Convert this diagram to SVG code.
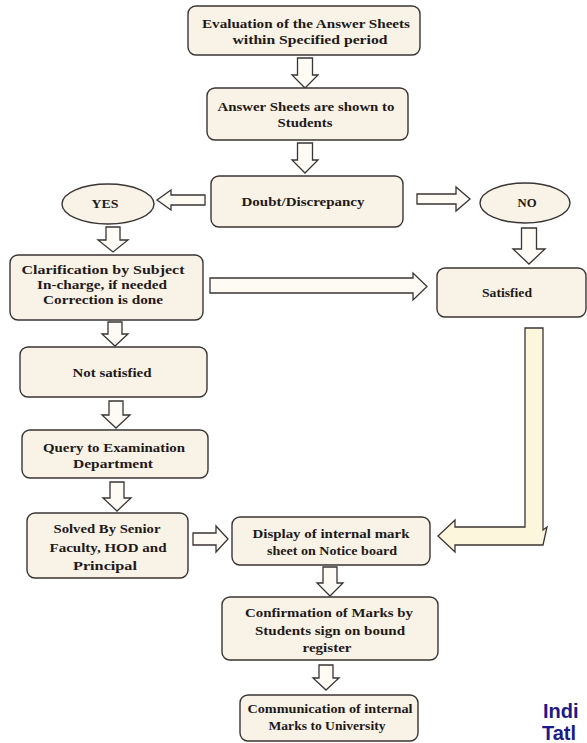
<svg xmlns="http://www.w3.org/2000/svg" width="587" height="743" viewBox="0 0 587 743">
<style>
.box{fill:#f9f2e6;stroke:#3a3535;stroke-width:1.4}
.arr{fill:#fdfbf4;stroke:#3a3535;stroke-width:1.3;stroke-linejoin:miter}
.t{font-family:"Liberation Serif","Times New Roman",serif;font-weight:bold;font-size:12px;fill:#1e1a1a;text-anchor:middle}
.blue{font-family:"Liberation Sans",Arial,sans-serif;font-weight:bold;font-size:20px;fill:#1c1a8a}
</style>
<rect width="587" height="743" fill="#ffffff"/>
<g id="connectors">
<path class="arr" d="M297.5,58 H312.5 V75 H318 L305,88 L292,75 H297.5 Z"/>
<path class="arr" d="M297.5,143 H312.5 V160 H318 L305,173 L292,160 H297.5 Z"/>
<path class="arr" d="M205,195 V205 H171 V210 L157,200 L171,190 V195 Z"/>
<path class="arr" d="M417,194 H456 V187 L470,199 L456,211 V204 H417 Z"/>
<path class="arr" d="M106,227 H120 V240 H128 L113,252 L98,240 H106 Z"/>
<path class="arr" d="M521.5,228 H536.5 V249 H545 L529,264 L513,249 H521.5 Z"/>
<path class="arr" d="M210,278 H413 V273 L427,286.5 L413,300 V293 H210 Z"/>
<path class="arr" d="M108,322 H122 V334 H128 L115,346 L102,334 H108 Z"/>
<path class="arr" d="M109,401 H123 V415 H130 L116,428 L102,415 H109 Z"/>
<path class="arr" d="M110,482 H124 V498 H131 L117,511 L103,498 H110 Z"/>
<path class="arr" d="M193,533 H216 V526 L228,539 L216,552 V545 H193 Z"/>
<path class="arr" d="M525,328 H543 V530 L547,527 L543,545 H455 V552 L438,536 L455,520 V527 H525 Z" style="fill:#fbf6dc"/>
<path class="arr" d="M323,567 H337 V583 H343 L330,596 L317,583 H323 Z"/>
<path class="arr" d="M319,665 H333 V678 H339 L326,690 L313,678 H319 Z"/>
</g>
<g id="n1"><rect class="box" x="188" y="6" width="232" height="49" rx="8"/>
<text class="t" x="306" y="28" textLength="208" lengthAdjust="spacingAndGlyphs">Evaluation of the Answer Sheets</text>
<text class="t" x="310" y="44" textLength="155" lengthAdjust="spacingAndGlyphs">within Specified period</text></g>
<g id="n2"><rect class="box" x="207" y="88" width="201" height="52" rx="8"/>
<text class="t" x="306" y="111" textLength="177" lengthAdjust="spacingAndGlyphs">Answer Sheets are shown to</text>
<text class="t" x="305" y="127" textLength="55" lengthAdjust="spacingAndGlyphs">Students</text></g>
<g id="n3"><rect class="box" x="211" y="176" width="192" height="51" rx="8"/>
<text class="t" x="303" y="206" textLength="123" lengthAdjust="spacingAndGlyphs">Doubt/Discrepancy</text></g>
<g id="yes"><ellipse class="box" cx="108" cy="204" rx="46" ry="20"/>
<text class="t" x="105" y="208" textLength="27" lengthAdjust="spacingAndGlyphs">YES</text></g>
<g id="no"><ellipse class="box" cx="525" cy="203" rx="45" ry="20"/>
<text class="t" x="527" y="207" textLength="19" lengthAdjust="spacingAndGlyphs">NO</text></g>
<g id="n4"><rect class="box" x="10" y="255" width="193" height="65" rx="8"/>
<text class="t" x="103" y="274" textLength="163" lengthAdjust="spacingAndGlyphs">Clarification by Subject</text>
<text class="t" x="102" y="289" textLength="130" lengthAdjust="spacingAndGlyphs">In-charge, if needed</text>
<text class="t" x="103" y="304" textLength="120" lengthAdjust="spacingAndGlyphs">Correction is done</text></g>
<g id="n5"><rect class="box" x="437" y="268" width="149" height="49" rx="8"/>
<text class="t" x="507" y="297" textLength="50" lengthAdjust="spacingAndGlyphs">Satisfied</text></g>
<g id="n6"><rect class="box" x="20" y="347" width="187" height="50" rx="8"/>
<text class="t" x="112" y="377" textLength="79" lengthAdjust="spacingAndGlyphs">Not satisfied</text></g>
<g id="n7"><rect class="box" x="22" y="430" width="186" height="48" rx="8"/>
<text class="t" x="114" y="452" textLength="142" lengthAdjust="spacingAndGlyphs">Query to Examination</text>
<text class="t" x="113" y="468" textLength="80" lengthAdjust="spacingAndGlyphs">Department</text></g>
<g id="n8"><rect class="box" x="27" y="513" width="161" height="65" rx="8"/>
<text class="t" x="107" y="533" textLength="107" lengthAdjust="spacingAndGlyphs">Solved By Senior</text>
<text class="t" x="108" y="552" textLength="117" lengthAdjust="spacingAndGlyphs">Faculty, HOD and</text>
<text class="t" x="105" y="570" textLength="64" lengthAdjust="spacingAndGlyphs">Principal</text></g>
<g id="n9"><rect class="box" x="232" y="517" width="198" height="48" rx="8"/>
<text class="t" x="331" y="538" textLength="157" lengthAdjust="spacingAndGlyphs">Display of internal mark</text>
<text class="t" x="332" y="555" textLength="130" lengthAdjust="spacingAndGlyphs">sheet on Notice board</text></g>
<g id="n10"><rect class="box" x="222" y="597" width="216" height="63" rx="8"/>
<text class="t" x="329" y="617" textLength="168" lengthAdjust="spacingAndGlyphs">Confirmation of Marks by</text>
<text class="t" x="330" y="635" textLength="150" lengthAdjust="spacingAndGlyphs">Students sign on bound</text>
<text class="t" x="327" y="652" textLength="49" lengthAdjust="spacingAndGlyphs">register</text></g>
<g id="n11"><rect class="box" x="240" y="695" width="178" height="46" rx="8"/>
<text class="t" x="330" y="713" textLength="165" lengthAdjust="spacingAndGlyphs">Communication of internal</text>
<text class="t" x="327" y="730" textLength="117" lengthAdjust="spacingAndGlyphs">Marks to University</text></g>
<g id="caption">
<text class="blue" x="543" y="718">Indi</text>
<text class="blue" x="542" y="740">Tatl</text>
</g>
</svg>
